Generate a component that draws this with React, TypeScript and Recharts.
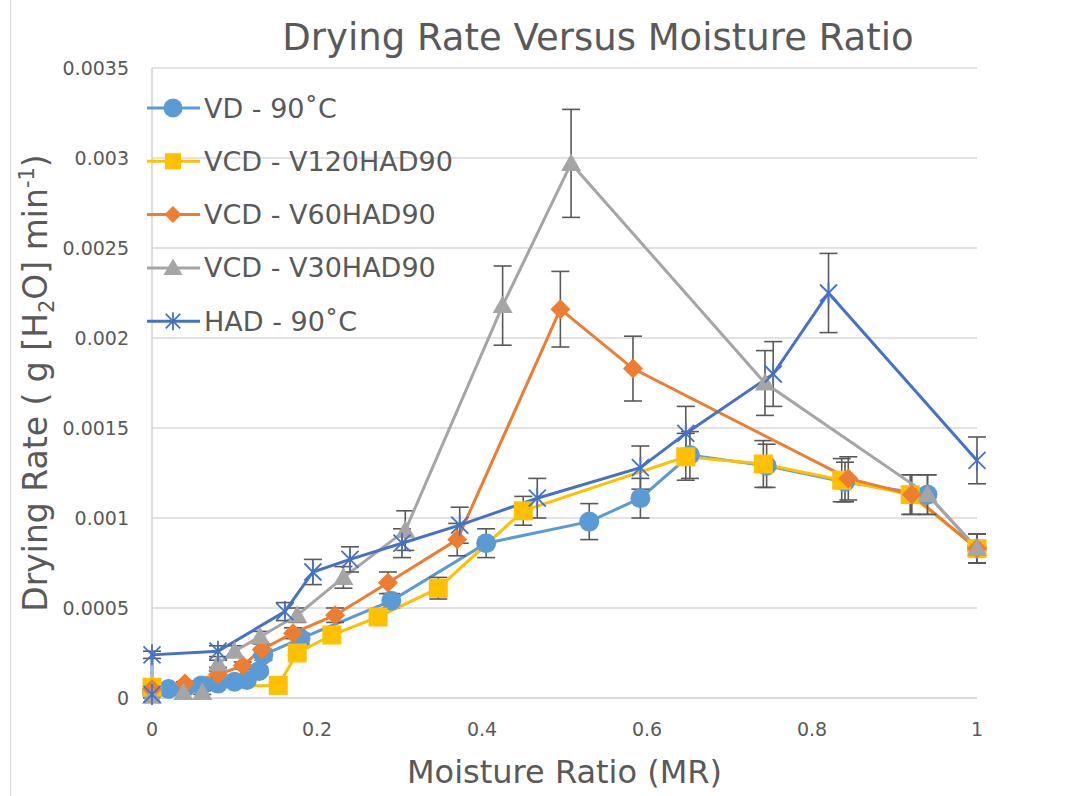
import { CartesianGrid, ErrorBar, Legend, Line, LineChart, XAxis, YAxis } from 'recharts'

const FONT = '"DejaVu Sans", Verdana, sans-serif'
const TEXT = '#595959'
const GRID = '#D9D9D9'

// moisture ratio (x), drying rate (y) and error (±) per series
const vdX = [0, 0.02, 0.04, 0.06, 0.08, 0.1, 0.115, 0.13, 0.135, 0.18, 0.29, 0.405, 0.53, 0.592, 0.652, 0.745, 0.84, 0.94, 1]
const vdY = [0.00003, 0.00005, 0.00006, 0.00007, 0.00008, 0.00009, 0.0001, 0.00015, 0.00024, 0.00033, 0.00054, 0.00086, 0.00098, 0.00111, 0.00135, 0.00129, 0.0012, 0.00113, 0.00083]
const vdErr = [0.00001, 0.00001, 0.00001, 0.00001, 0.00001, 0.00001, 0.00002, 0.00002, 0.00003, 0.00003, 0.00004, 0.00008, 0.0001, 0.00011, 0.00013, 0.00012, 0.00011, 0.00011, 0.00008]

const v120X = [0, 0.153, 0.176, 0.218, 0.274, 0.347, 0.45, 0.647, 0.741, 0.836, 0.919, 1]
const v120Y = [0.00006, 0.00007, 0.00025, 0.00035, 0.00045, 0.00061, 0.00104, 0.00134, 0.0013, 0.00121, 0.00113, 0.00083]
const v120Err = [0.00001, 0.00001, 0.00003, 0.00003, 0.00004, 0.00006, 0.00008, 0.00013, 0.00013, 0.00012, 0.00011, 0.00008]

const v60X = [0, 0.04, 0.08, 0.11, 0.133, 0.171, 0.222, 0.286, 0.37, 0.495, 0.583, 0.844, 0.921, 1]
const v60Y = [0.00005, 0.00008, 0.00013, 0.00018, 0.00027, 0.00036, 0.00046, 0.00064, 0.00088, 0.00216, 0.00183, 0.00122, 0.00113, 0.00083]
const v60Err = [0.00001, 0.00001, 0.00002, 0.00002, 0.00003, 0.00003, 0.00004, 0.00006, 0.00009, 0.00021, 0.00018, 0.00012, 0.00011, 0.00008]

const v30X = [0, 0.038, 0.061, 0.08, 0.1, 0.131, 0.176, 0.232, 0.307, 0.425, 0.508, 0.743, 0.94, 1]
const v30Y = [0.00001, 0.00003, 0.00003, 0.00019, 0.00026, 0.00034, 0.00046, 0.00067, 0.00093, 0.00218, 0.00297, 0.00175, 0.00113, 0.00083]
const v30Err = [0.00001, 0.00001, 0.00001, 0.00002, 0.00003, 0.00003, 0.00004, 0.00006, 0.00011, 0.00022, 0.0003, 0.00018, 0.00011, 0.00008]

const hadX = [0, 0, 0.08, 0.161, 0.195, 0.24, 0.303, 0.373, 0.467, 0.592, 0.647, 0.753, 0.82, 1]
const hadY = [0.00002, 0.00024, 0.00026, 0.00048, 0.0007, 0.00077, 0.00086, 0.00096, 0.00111, 0.00128, 0.00147, 0.0018, 0.00225, 0.00132]
const hadErr = [0.00001, 0.00002, 0.00003, 0.00005, 0.00007, 0.00007, 0.00008, 0.0001, 0.00011, 0.00012, 0.00015, 0.00018, 0.00022, 0.00013]

const xTicks = [0, 0.2, 0.4, 0.6, 0.8, 1]
const yTicks = [0, 0.0005, 0.001, 0.0015, 0.002, 0.0025, 0.003, 0.0035]

type Shape = 'circle' | 'square' | 'diamond' | 'triangle' | 'star'

const rows = (xs: number[], ys: number[], errs: number[]) => xs.map((x, i) => ({ x, y: ys[i], err: errs[i] }))

const series: { name: string; color: string; shape: Shape; data: { x: number; y: number; err: number }[] }[] = [
  { name: 'VD - 90˚C', color: '#5B9BD5', shape: 'circle', data: rows(vdX, vdY, vdErr) },
  { name: 'VCD - V120HAD90', color: '#FFC000', shape: 'square', data: rows(v120X, v120Y, v120Err) },
  { name: 'VCD - V60HAD90', color: '#ED7D31', shape: 'diamond', data: rows(v60X, v60Y, v60Err) },
  { name: 'VCD - V30HAD90', color: '#A5A5A5', shape: 'triangle', data: rows(v30X, v30Y, v30Err) },
  { name: 'HAD - 90˚C', color: '#4472C4', shape: 'star', data: rows(hadX, hadY, hadErr) },
]

function Marker({ shape, cx, cy, color, size }: { shape: Shape; cx: number; cy: number; color: string; size: number }) {
  const h = size / 2
  if (shape === 'circle') return <circle cx={cx} cy={cy} r={h} fill={color} />
  if (shape === 'square') return <rect x={cx - h * 0.95} y={cy - h * 0.95} width={size * 0.95} height={size * 0.95} fill={color} />
  if (shape === 'diamond') return <polygon points={`${cx},${cy - h} ${cx + h},${cy} ${cx},${cy + h} ${cx - h},${cy}`} fill={color} />
  if (shape === 'triangle')
    return <polygon points={`${cx},${cy - h * 1.0} ${cx + h},${cy + h * 0.75} ${cx - h},${cy + h * 0.75}`} fill={color} />
  const d = h * 0.85
  return (
    <g stroke={color} strokeWidth={1.8}>
      <line x1={cx} y1={cy - h * 1.05} x2={cx} y2={cy + h * 1.05} />
      <line x1={cx - d} y1={cy - d} x2={cx + d} y2={cy + d} />
      <line x1={cx - d} y1={cy + d} x2={cx + d} y2={cy - d} />
    </g>
  )
}

function LegendBox() {
  return (
    <svg width={340} height={270}>
      {series.map((s, i) => {
        const y = 28 + i * 53.3
        const mSize = s.shape === 'circle' || s.shape === 'triangle' ? 19 : 17
        return (
          <g key={s.name}>
            <line x1={7} x2={60} y1={y} y2={y} stroke={s.color} strokeWidth={3} />
            <Marker shape={s.shape} cx={33} cy={y} color={s.color} size={mSize} />
            <text x={64} y={y} dominantBaseline="central" fill={TEXT} fontSize={27} fontFamily={FONT}>
              {s.name}
            </text>
          </g>
        )
      })}
    </svg>
  )
}

function YLabel(props: any) {
  const vb = props.viewBox || { x: 0, y: 68, width: 152, height: 630 }
  const cx = 47
  const cy = vb.y + vb.height / 2
  return (
    <text
      x={cx}
      y={cy}
      transform={`rotate(-90 ${cx} ${cy})`}
      textAnchor="middle"
      fill={TEXT}
      fontSize={33}
      fontFamily={FONT}
    >
      Drying Rate ( g [H
      <tspan fontSize={21} dy={7}>2</tspan>
      <tspan dy={-7}>O] min</tspan>
      <tspan fontSize={21} dy={-13}>-1</tspan>
      <tspan dy={13}>)</tspan>
    </text>
  )
}

function XLabel(props: any) {
  const vb = props.viewBox || { x: 152, y: 698, width: 825, height: 98 }
  return (
    <text x={vb.x + vb.width / 2} y={783} textAnchor="middle" fill={TEXT} fontSize={32} fontFamily={FONT}>
      Moisture Ratio (MR)
    </text>
  )
}

export default function App() {
  return (
    <div style={{ position: 'absolute', left: 0, top: 0, width: 1066, height: 796, background: '#fff', fontFamily: FONT }}>
      <div style={{ position: 'absolute', left: 10, top: 0, width: 1, height: 796, background: GRID }} />
      <div
        style={{
          position: 'absolute',
          left: 598,
          top: 19,
          transform: 'translateX(-50%)',
          whiteSpace: 'nowrap',
          fontSize: 37,
          lineHeight: '37px',
          color: TEXT,
        }}
      >
        Drying Rate Versus Moisture Ratio
      </div>
      <LineChart width={1066} height={796} margin={{ top: 68, right: 89, left: 0, bottom: 0 }}>
        <CartesianGrid vertical={false} stroke={GRID} strokeWidth={1.5} />
        <XAxis
          type="number"
          dataKey="x"
          domain={[0, 1]}
          ticks={xTicks}
          height={98}
          tickLine={false}
          tickSize={0}
          tickMargin={25}
          axisLine={{ stroke: GRID, strokeWidth: 1.5 }}
          tick={{ fill: TEXT, fontSize: 19, fontFamily: FONT }}
          tickFormatter={(v) => String(v)}
          label={{ content: XLabel }}
        />
        <YAxis
          type="number"
          domain={[0, 0.0035]}
          ticks={yTicks}
          width={152}
          tickLine={false}
          tickSize={0}
          tickMargin={23}
          axisLine={{ stroke: '#D0D0D0', strokeWidth: 1.5 }}
          tick={{ fill: TEXT, fontSize: 19, fontFamily: FONT }}
          tickFormatter={(v) => String(v)}
          label={{ content: YLabel }}
        />
        <Legend
          layout="vertical"
          align="center"
          verticalAlign="middle"
          wrapperStyle={{ left: 140, top: 80, width: 340, height: 270 }}
          content={() => <LegendBox />}
        />
        {series.map((s) => (
          <Line
            key={s.name}
            name={s.name}
            data={s.data}
            dataKey="y"
            type="linear"
            stroke={s.color}
            strokeWidth={3}
            isAnimationActive={false}
            activeDot={false}
            dot={(p: any) => (
              <Marker key={`${s.name}-${p.index}`} shape={s.shape} cx={p.cx} cy={p.cy} color={s.color} size={20} />
            )}
          >
            <ErrorBar dataKey="err" direction="y" width={9} stroke="#595959" strokeWidth={1.6} />
          </Line>
        ))}
      </LineChart>
    </div>
  )
}
